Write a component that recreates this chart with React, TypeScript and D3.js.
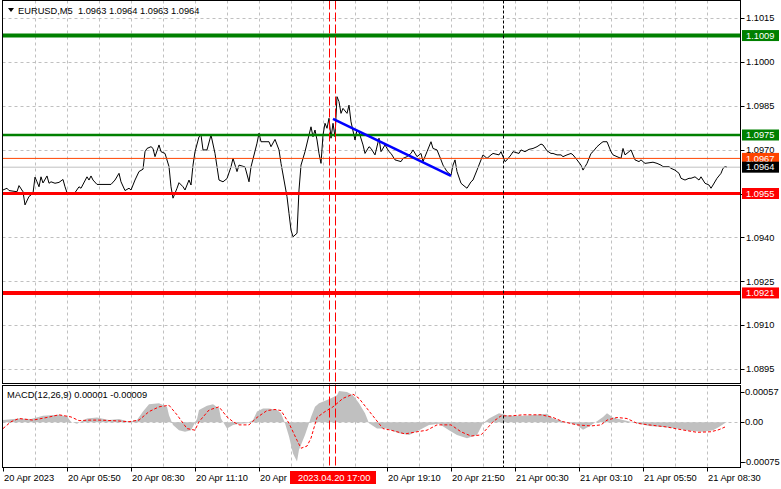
import React from 'react';
import * as d3 from 'd3';

// EURUSD M5 close prices, [bar index, price]
const closeSeries: [number, number][] = [
  [0, 1.09562], [2, 1.09568], [3, 1.0956], [7, 1.09556], [8, 1.09577], [10, 1.09556], [11, 1.09511],
  [13, 1.0954], [14, 1.09545], [15, 1.09551], [16, 1.09606], [17, 1.0959], [18, 1.09573], [19, 1.09607],
  [20, 1.09586], [22, 1.0961], [23, 1.09585], [24, 1.0959], [26, 1.09585], [28, 1.09588], [30, 1.09598],
  [31, 1.09573], [32, 1.09553], [36, 1.09553], [38, 1.09573], [39, 1.09568], [42, 1.09607], [43, 1.09596],
  [44, 1.0961], [45, 1.09596], [47, 1.09581], [52, 1.09581], [54, 1.09581], [56, 1.09596], [58, 1.09619],
  [59, 1.0959], [61, 1.0956], [63, 1.09568], [64, 1.09562], [66, 1.09596], [68, 1.09625], [70, 1.09633],
  [71, 1.09693], [72, 1.09704], [74, 1.0971], [75, 1.09704], [76, 1.09676], [78, 1.09716], [79, 1.09693],
  [81, 1.09687], [83, 1.09642], [84, 1.09573], [85, 1.09534], [87, 1.09568], [88, 1.09587], [90, 1.09573],
  [91, 1.09562], [93, 1.09596], [94, 1.09579], [95, 1.09647], [96, 1.09693], [98, 1.09744], [99, 1.0975],
  [100, 1.09699], [102, 1.09699], [104, 1.0975], [106, 1.09687], [108, 1.09596], [110, 1.0959], [112, 1.09601],
  [114, 1.09641], [115, 1.0967], [117, 1.09625], [118, 1.09647], [121, 1.09641], [123, 1.0959], [124, 1.09641],
  [127, 1.09722], [128, 1.09756], [129, 1.09727], [133, 1.09727], [134, 1.0971], [136, 1.09735], [138, 1.09699],
  [139, 1.09653], [142, 1.09539], [143, 1.09482], [144, 1.09425], [145, 1.09402], [147, 1.09414], [148, 1.09562],
  [149, 1.09647], [151, 1.09693], [153, 1.0975], [154, 1.09778], [155, 1.09744], [156, 1.09767], [157, 1.09733],
  [158, 1.09687], [159, 1.09653], [160, 1.0975], [161, 1.0979], [162, 1.09773], [163, 1.09807], [164, 1.09739],
  [165, 1.0979], [166, 1.09744], [167, 1.09881], [168, 1.09864], [169, 1.09824], [170, 1.09841], [172, 1.09824],
  [173, 1.09852], [174, 1.09795], [176, 1.09733], [177, 1.09767], [178, 1.0976], [180, 1.09716], [181, 1.09687],
  [183, 1.0971], [184, 1.09704], [186, 1.09682], [188, 1.09739], [189, 1.09693], [191, 1.09716], [193, 1.09693],
  [194, 1.09687], [196, 1.09665], [199, 1.09659], [200, 1.0967], [202, 1.09676], [204, 1.09687], [205, 1.09699],
  [207, 1.09676], [209, 1.09687], [210, 1.09659], [212, 1.09693], [214, 1.09727], [215, 1.09704], [217, 1.09699],
  [219, 1.09665], [220, 1.09647], [222, 1.09625], [224, 1.09613], [225, 1.09647], [226, 1.09665], [227, 1.09625],
  [229, 1.09585], [230, 1.09579], [232, 1.09568], [234, 1.0959], [235, 1.09596], [237, 1.0963], [239, 1.09665],
  [240, 1.09682], [242, 1.0967], [244, 1.09682], [245, 1.09687], [248, 1.09682], [249, 1.09693], [251, 1.09659],
  [252, 1.09665], [254, 1.09682], [255, 1.09693], [258, 1.09687], [259, 1.09699], [261, 1.09693], [263, 1.09701],
  [265, 1.09704], [267, 1.0971], [269, 1.09719], [270, 1.09716], [272, 1.09696], [274, 1.09687], [275, 1.09687],
  [277, 1.09682], [279, 1.09682], [280, 1.09676], [282, 1.09682], [284, 1.09687], [285, 1.09682], [287, 1.09665],
  [289, 1.09647], [290, 1.0963], [292, 1.09653], [294, 1.09687], [295, 1.09693], [297, 1.0971], [299, 1.09722],
  [300, 1.09727], [302, 1.09727], [304, 1.09693], [305, 1.09682], [307, 1.09676], [309, 1.0967], [310, 1.09704],
  [311, 1.09682], [313, 1.09693], [314, 1.09699], [316, 1.09665], [318, 1.09659], [319, 1.09665], [321, 1.09653],
  [323, 1.09655], [325, 1.09657], [327, 1.09653], [329, 1.09647], [330, 1.09642], [333, 1.09642], [334, 1.09636],
  [336, 1.0963], [338, 1.09619], [339, 1.09602], [341, 1.09596], [343, 1.09602], [344, 1.09602], [346, 1.09607],
  [348, 1.09596], [349, 1.09607], [351, 1.09585], [353, 1.09579], [354, 1.09568], [355, 1.09579], [357, 1.09602],
  [359, 1.09619], [360, 1.09636], [361, 1.09642], [362, 1.0964],
];

// MACD(12,26,9) main histogram, [bar, value]
const macdHist: [number, number][] = [
  [0, 0.00004], [8, 0.00007], [14, 0.00006], [20, 0.00012], [28, 0.00014], [32, 0.00011], [34, 0.00001],
  [37, -0.00003], [42, 0.00007], [47, 0.00009], [53, 0.00004], [58, 0.00006], [63, 0.00001], [67, 0.00004],
  [70, 0.0002], [73, 0.00034], [78, 0.00036], [82, 0.00029], [83, 0.00013], [85, -0.00005], [88, -0.00015],
  [91, -0.00018], [94, -0.00015], [97, 0.00006], [98, 0.00023], [102, 0.00031], [105, 0.00034], [108, 0.00026],
  [109, 0.00007], [112, -0.00012], [115, -0.00005], [118, -0.00003], [122, -0.00002], [125, 0.00004], [127, 0.0002],
  [130, 0.00026], [133, 0.00026], [137, 0.00023], [139, 0.00017], [141, -0.00002], [143, -0.00027], [145, -0.00059],
  [147, -0.00074], [148, -0.00052], [151, -0.00024], [153, -0.00002], [154, 0.0001], [156, 0.00029], [158, 0.00036],
  [162, 0.00042], [164, 0.00045], [167, 0.00051], [168, 0.00059], [172, 0.00057], [175, 0.00051], [178, 0.00036],
  [181, 0.00017], [183, -0.00002], [187, -0.00012], [192, -0.00012], [194, -0.00015], [198, -0.00021],
  [203, -0.00024], [208, -0.00015], [213, -0.00005], [218, -0.00003], [223, -0.00015], [227, -0.00024],
  [232, -0.0003], [237, -0.00024], [240, -0.00002], [243, 0.00007], [248, 0.00017], [253, 0.00012], [260, 0.00012],
  [267, 0.00014], [272, 0.00016], [275, 0.00007], [280, 0.00002], [287, -0.00005], [290, -0.00014], [293, -0.00008],
  [297, 0.00002], [300, 0.0001], [302, 0.00017], [305, 0.00009], [310, 0.00004], [317, -0.00002], [323, -0.00007],
  [330, -0.00009], [337, -0.00012], [343, -0.00016], [350, -0.00018], [355, -0.00015], [358, -0.00009], [362, 0.00001],
];

// MACD signal line, [bar, value]
const macdSignal: [number, number][] = [
  [0, -0.00012], [4, 0.00001], [8, 0.00007], [15, 0.00004], [22, 0.00009], [28, 0.00014], [34, 0.0001],
  [38, 0.00003], [43, 0.00004], [48, 0.00004], [55, 0.00003], [63, 0.00001], [68, 0.00004], [73, 0.0002],
  [78, 0.00029], [83, 0.00032], [87, 0.00014], [92, -0.00012], [96, -0.00015], [98, 0.00001], [103, 0.00023],
  [108, 0.00029], [112, 0.0001], [115, 0.00001], [118, -0.00005], [123, -0.00005], [127, 0.00009], [132, 0.00022],
  [136, 0.00024], [139, 0.00022], [143, -0.00002], [147, -0.00034], [149, -0.00049], [152, -0.00045],
  [154, -0.0003], [157, 0.00009], [161, 0.0002], [165, 0.00029], [170, 0.00045], [175, 0.00053], [178, 0.00045],
  [182, 0.00026], [186, 0.00007], [190, -0.00012], [194, -0.00015], [201, -0.00022], [207, -0.00018],
  [212, -0.00015], [217, -0.00005], [224, -0.00005], [229, -0.00018], [234, -0.00026], [239, -0.00024],
  [242, -0.00012], [245, 0.00001], [249, 0.00012], [254, 0.00012], [260, 0.00014], [269, 0.00014], [275, 0.00009],
  [280, 0.00001], [287, -0.00005], [294, -0.00007], [299, -0.00005], [302, 0.00004], [307, 0.00009], [312, 0.00007],
  [317, -0.00002], [323, -0.00005], [332, -0.00009], [339, -0.00014], [347, -0.00019], [354, -0.00018],
  [358, -0.00014], [361, -0.00009],
];

const priceTicks = [1.1015, 1.1, 1.0985, 1.097, 1.0955, 1.094, 1.0925, 1.091, 1.0895];
const macdTicks = [0.00057, 0, -0.00075];
const macdTickLabels = ['0.00057', '0.00', '-0.00075'];

// the 16:30 label sits under the crosshair box, 13:50 is half covered
const timeTickBars = [0, 32, 64, 96, 128, 192, 224, 256, 288, 320, 352];
const timeTickLabels = [
  '20 Apr 2023', '20 Apr 05:50', '20 Apr 08:30', '20 Apr 11:10', '20 Apr',
  '20 Apr 19:10', '20 Apr 21:50', '21 Apr 00:30', '21 Apr 03:10', '21 Apr 05:50', '21 Apr 08:30',
];

// horizontal levels: price, label
const levelPrices = [1.1009, 1.0975, 1.0967, 1.0964, 1.0955, 1.0921];
const levelLabels = ['1.1009', '1.0975', '1.0967', '1.0964', '1.0955', '1.0921'];

const trendBars = [165, 224];
const trendPrices = [1.09805, 1.0961];
const crossBars = [163, 166];
const daySepBar = 250;
const crossLabel = '2023.04.20 17:00';

const LEVEL_STYLE = [
  { line: '#008000', width: 4, box: '#008000', text: '#ffffff' },
  { line: '#008000', width: 2.5, box: '#008000', text: '#ffffff' },
  { line: '#FF4500', width: 1, box: '#FF4500', text: '#ffffff' },
  { line: '#C0C0C0', width: 1, box: '#000000', text: '#ffffff' },
  { line: '#FF0000', width: 3, box: '#FF0000', text: '#ffffff' },
  { line: '#FF0000', width: 4, box: '#FF0000', text: '#ffffff' },
];

const W = 781;
const H = 489;
const FONT = '"Liberation Sans", Arial, sans-serif';
const FS = 9.3;
const LEFT = 2.5;
const RIGHT = 740.5;
const MAIN_TOP = 0.5;
const MAIN_BOTTOM = 383.5;
const MACD_TOP = 385.5;
const MACD_BOTTOM = 467.5;
const GRID = '#C0C0C0';

export default function App() {
  const x = d3.scaleLinear().domain([0, 362]).range([3, 727]);
  const y = d3.scaleLinear().domain([1.0895, 1.1015]).range([369, 18]);
  const ym = d3.scaleLinear().domain([-0.00075, 0.00057]).range([462, 392]);

  const priceLine = d3.line<[number, number]>().x(d => x(d[0])).y(d => y(d[1]))(closeSeries) || '';
  const histArea = d3.area<[number, number]>().x(d => x(d[0])).y0(ym(0)).y1(d => ym(d[1]))(macdHist) || '';
  const signalLine = d3.line<[number, number]>().x(d => x(d[0])).y(d => ym(d[1]))(macdSignal) || '';

  const vGrid = d3.range(16, 362, 16);

  return (
    <svg width={W} height={H} style={{ position: 'absolute', left: 0, top: 0, background: '#fff' }}
      fontFamily={FONT} fontSize={FS}>
      <rect x={0} y={0} width={W} height={H} fill="#fff" />

      {/* grid main */}
      {priceTicks.map(t => (
        <line key={'hg' + t} x1={LEFT} x2={RIGHT} y1={Math.round(y(t)) + 0.5} y2={Math.round(y(t)) + 0.5}
          stroke={GRID} strokeDasharray="3,3" />
      ))}
      {vGrid.map(b => (
        <g key={'vg' + b}>
          <line x1={x(b) + 0.5} x2={x(b) + 0.5} y1={MAIN_TOP} y2={MAIN_BOTTOM} stroke={GRID} strokeDasharray="3,3" />
          <line x1={x(b) + 0.5} x2={x(b) + 0.5} y1={MACD_TOP} y2={MACD_BOTTOM} stroke={GRID} strokeDasharray="3,3" />
        </g>
      ))}
      <line x1={LEFT} x2={RIGHT} y1={Math.round(ym(0)) + 0.5} y2={Math.round(ym(0)) + 0.5} stroke={GRID} strokeDasharray="3,3" />

      {/* price */}
      <path d={priceLine} fill="none" stroke="#000" strokeWidth={1} />

      {/* horizontal levels */}
      {levelPrices.map((p, i) => (
        <line key={'lv' + i} x1={LEFT} x2={RIGHT} y1={y(p)} y2={y(p)}
          stroke={LEVEL_STYLE[i].line} strokeWidth={LEVEL_STYLE[i].width} />
      ))}

      {/* MACD */}
      <path d={histArea} fill="#C0C0C0" />
      <path d={signalLine} fill="none" stroke="#FF0000" strokeWidth={1} strokeDasharray="3,2" />

      {/* vertical markers */}
      {crossBars.map(b => (
        <line key={'cb' + b} x1={x(b) + 0.5} x2={x(b) + 0.5} y1={MAIN_TOP} y2={MACD_BOTTOM}
          stroke="#FF0000" strokeDasharray="9,3" />
      ))}
      <line x1={x(daySepBar) + 0.5} x2={x(daySepBar) + 0.5} y1={MAIN_TOP} y2={MACD_BOTTOM}
        stroke="#000" strokeDasharray="3,2" />

      {/* trend line */}
      <line x1={x(trendBars[0])} y1={y(trendPrices[0])} x2={x(trendBars[1])} y2={y(trendPrices[1])}
        stroke="#0000FF" strokeWidth={2.5} />

      {/* frames */}
      <rect x={LEFT} y={MAIN_TOP} width={RIGHT - LEFT} height={MAIN_BOTTOM - MAIN_TOP} fill="none" stroke="#000" />
      <rect x={LEFT} y={MACD_TOP} width={RIGHT - LEFT} height={MACD_BOTTOM - MACD_TOP} fill="none" stroke="#000" />

      {/* price axis */}
      {priceTicks.map(t => (
        <g key={'pt' + t}>
          <line x1={RIGHT} x2={RIGHT + 4} y1={Math.round(y(t)) + 0.5} y2={Math.round(y(t)) + 0.5} stroke="#000" />
          <text x={746} y={y(t)} dy="0.35em" fill="#000">{t.toFixed(4)}</text>
        </g>
      ))}
      {levelPrices.map((p, i) => (
        <g key={'lb' + i}>
          <rect x={742} y={y(p) - 5.5} width={37} height={11} fill={LEVEL_STYLE[i].box} />
          <text x={746} y={y(p)} dy="0.35em" fill={LEVEL_STYLE[i].text}>{levelLabels[i]}</text>
        </g>
      ))}

      {/* macd axis */}
      {macdTicks.map((t, i) => (
        <g key={'mt' + i}>
          <line x1={RIGHT} x2={RIGHT + 4} y1={Math.round(ym(t)) + 0.5} y2={Math.round(ym(t)) + 0.5} stroke="#000" />
          <text x={t < 0 ? 743 : 745} y={ym(t)} dy="0.35em" fill="#000">{macdTickLabels[i]}</text>
        </g>
      ))}

      {/* time axis */}
      {timeTickBars.map((b, i) => (
        <g key={'tt' + b}>
          <line x1={x(b) + 0.5} x2={x(b) + 0.5} y1={MACD_BOTTOM} y2={MACD_BOTTOM + 4} stroke="#000" />
          <text x={x(b) + 1} y={481} fill="#000">{timeTickLabels[i]}</text>
        </g>
      ))}
      <rect x={290} y={471} width={86} height={13} fill="#FF0000" />
      <text x={298} y={481} fill="#fff">{crossLabel}</text>

      {/* titles */}
      <path d="M8,8 L14,8 L11,12 Z" fill="#000" />
      <text x={18} y={13.5} fill="#000">EURUSD,M5{'\u00a0\u00a0'}1.0963 1.0964 1.0963 1.0964</text>
      <text x={7} y={398} fill="#000">MACD(12,26,9) 0.00001 -0.00009</text>
    </svg>
  );
}
